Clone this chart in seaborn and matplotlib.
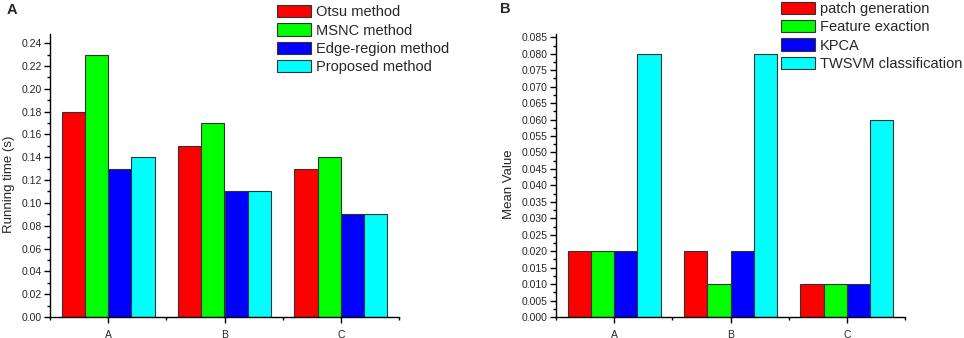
import matplotlib
matplotlib.use("Agg")
import matplotlib.pyplot as plt
import seaborn as sns
import pandas as pd
from matplotlib.patches import Patch
from matplotlib.ticker import MultipleLocator, FixedLocator

sns.set_theme(style="ticks")
plt.rcParams['font.family'] = ['Liberation Sans', 'DejaVu Sans']

categories = ["A", "B", "C"]

methods_a = ["Otsu method", "MSNC method", "Edge-region method", "Proposed method"]
otsu = [0.18, 0.15, 0.13]
msnc = [0.23, 0.17, 0.14]
edge_region = [0.13, 0.11, 0.09]
proposed = [0.14, 0.11, 0.09]

steps_b = ["patch generation", "Feature exaction", "KPCA", "TWSVM classification"]
patch_gen = [0.02, 0.02, 0.01]
feature_ex = [0.02, 0.01, 0.01]
kpca = [0.02, 0.02, 0.01]
twsvm = [0.08, 0.08, 0.06]

colors = ["#FF0000", "#00FF00", "#0000FF", "#00FFFF"]


def long_df(names, series):
    rows = []
    for n, s in zip(names, series):
        for c, v in zip(categories, s):
            rows.append({"cat": c, "series": n, "value": v})
    return pd.DataFrame(rows)


df_a = long_df(methods_a, [otsu, msnc, edge_region, proposed])
df_b = long_df(steps_b, [patch_gen, feature_ex, kpca, twsvm])

fig = plt.figure(figsize=(9.64, 3.38), dpi=100)
W, H = 964, 338
ax1 = fig.add_axes([50 / W, 1 - 317 / H, 349 / W, 283 / H])
ax2 = fig.add_axes([556 / W, 1 - 317 / H, 349 / W, 283 / H])


def draw(ax, df, names, ymax, major, minor, fmt, ylabel, lab_x):
    sns.barplot(data=df, x="cat", y="value", hue="series", hue_order=names,
                order=categories, palette=colors, width=0.8, edgecolor="#333333",
                linewidth=0.8, saturation=1, legend=False, ax=ax, errorbar=None)
    ax.set_xlim(-0.5, 2.5)
    ax.set_ylim(0, ymax)
    ax.yaxis.set_major_locator(MultipleLocator(major))
    ax.yaxis.set_minor_locator(MultipleLocator(minor))
    ax.yaxis.set_major_formatter(plt.FormatStrFormatter(fmt))
    ax.xaxis.set_minor_locator(FixedLocator([-0.5, 0.5, 1.5, 2.5]))
    for s in ["top", "right"]:
        ax.spines[s].set_visible(False)
    for s in ["left", "bottom"]:
        ax.spines[s].set_linewidth(1.0)
        ax.spines[s].set_color("black")
    ax.tick_params(axis="both", which="major", direction="out", length=4, width=1,
                   labelsize=7.5, color="black", pad=2)
    ax.tick_params(axis="x", which="major", pad=5)
    ax.tick_params(axis="both", which="minor", direction="out", length=2.5, width=1,
                   color="black")
    ax.set_xlabel("")
    ax.set_ylabel(ylabel, fontsize=9.5)
    ax.yaxis.set_label_coords(lab_x, 0.47)


draw(ax1, df_a, methods_a, 0.248, 0.02, 0.01, "%.2f", "Running time (s)", -0.10)
draw(ax2, df_b, steps_b, 0.086, 0.005, 0.0025, "%.3f", "Mean Value", -0.117)


def legend(names, x, ytop):
    handles = [Patch(facecolor=c, edgecolor="#333333", linewidth=0.8) for c in colors]
    fig.legend(handles, names, loc="upper left", bbox_to_anchor=(x / W, 1 - ytop / H),
               frameon=False, fontsize=10.5, handlelength=2.3, handleheight=0.9,
               handletextpad=0.35, labelspacing=0.3, borderpad=0, borderaxespad=0)


legend(methods_a, 277, 5)
legend(steps_b, 781, 1.5)

fig.text(7 / W, 1 - 10 / H, "A", fontsize=10.5, fontweight="bold", va="center", ha="left")
fig.text(500 / W, 1 - 9 / H, "B", fontsize=10.5, fontweight="bold", va="center", ha="left")

fig.savefig("out.png", dpi=100)
